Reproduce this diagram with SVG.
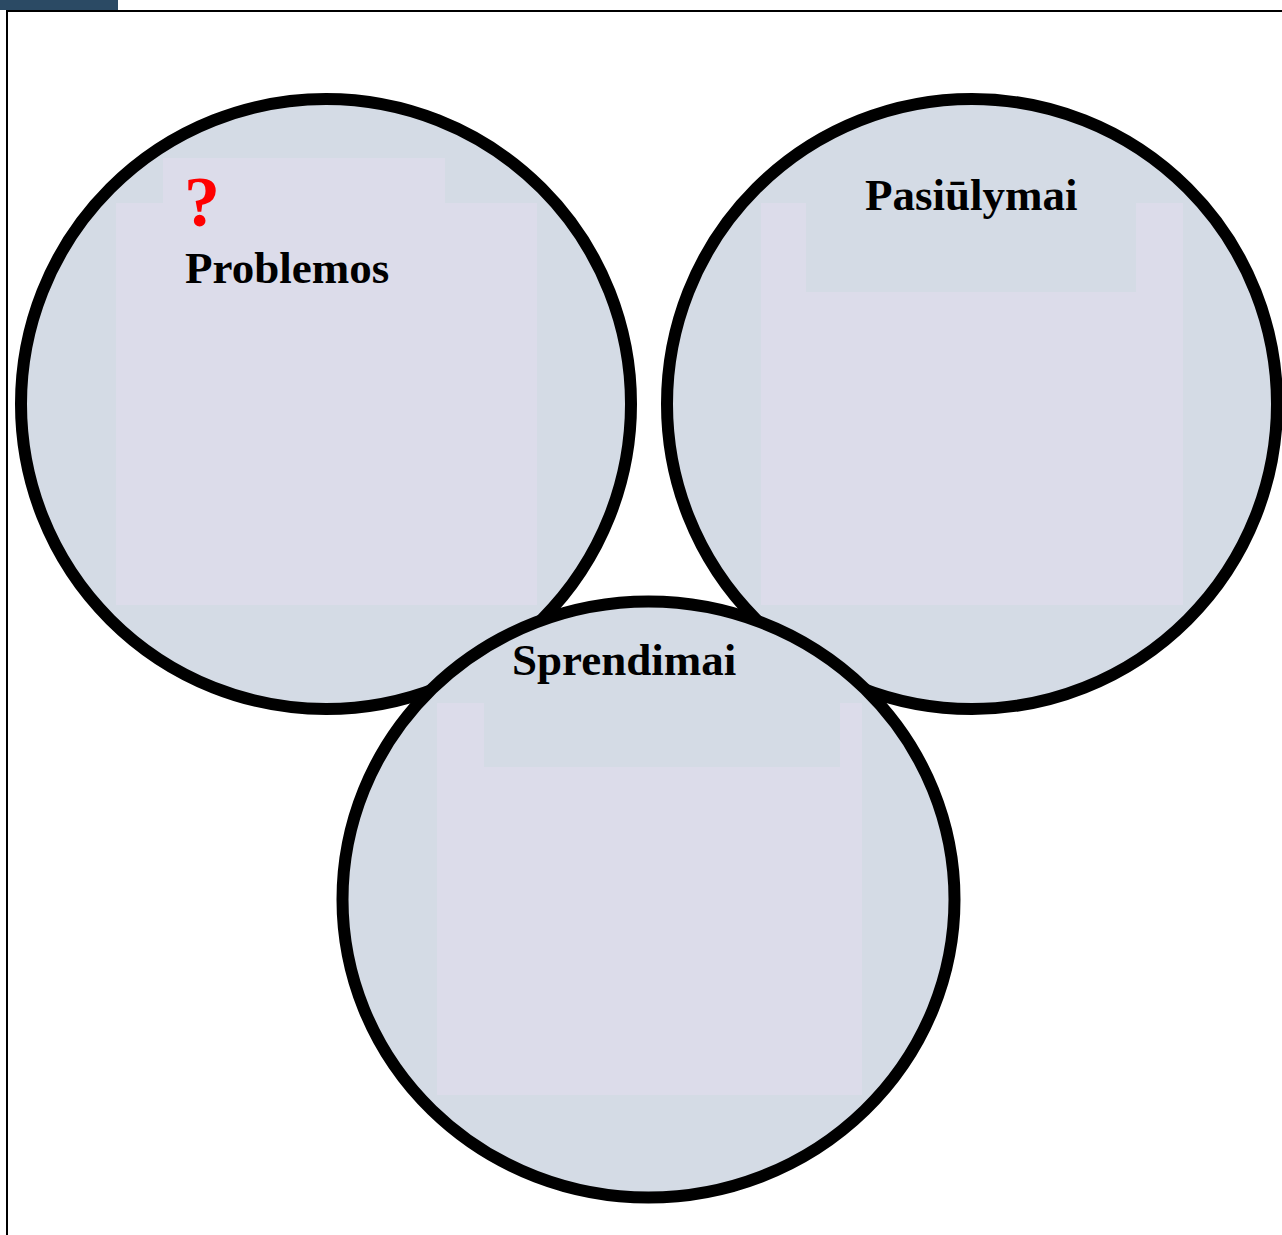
<svg xmlns="http://www.w3.org/2000/svg" width="1282" height="1235" viewBox="0 0 1282 1235">
<style>
.ring{fill:#d4dbe5;stroke:#000;stroke-width:12}
.inner{fill:#dcdcea}
.lbl{font-family:"Liberation Serif","Times New Roman",serif;font-weight:bold;font-size:45px;fill:#000}
.q{font-family:"Liberation Serif","Times New Roman",serif;font-weight:bold;font-size:72px;fill:#ff0000}
</style>
<rect width="1282" height="1235" fill="#ffffff"/>
<rect x="0" y="0" width="118" height="10" fill="#2b4a64"/>
<path d="M7 1235 V11 H1282" fill="none" stroke="#000" stroke-width="2"/>
<g id="connectors"></g>
<g id="problemos">
<circle class="ring" cx="326" cy="404" r="305"/>
<path class="inner" d="M163 158 H445 V203 H537 V605 H116 V203 H163 Z"/>
<text class="q" x="184" y="226">?</text>
<text class="lbl" x="185" y="283">Problemos</text>
</g>
<g id="pasiulymai">
<circle class="ring" cx="972" cy="404" r="305"/>
<path class="inner" d="M761 203 H806 V292 H1136 V203 H1183 V605 H761 Z"/>
<text class="lbl" x="865" y="210">Pasiūlymai</text>
</g>
<g id="sprendimai">
<ellipse class="ring" cx="648.5" cy="899.5" rx="306" ry="298"/>
<path class="inner" d="M437 703 H484 V767 H840 V703 H862 V1095 H437 Z"/>
<text class="lbl" x="512" y="675">Sprendimai</text>
</g>
</svg>
